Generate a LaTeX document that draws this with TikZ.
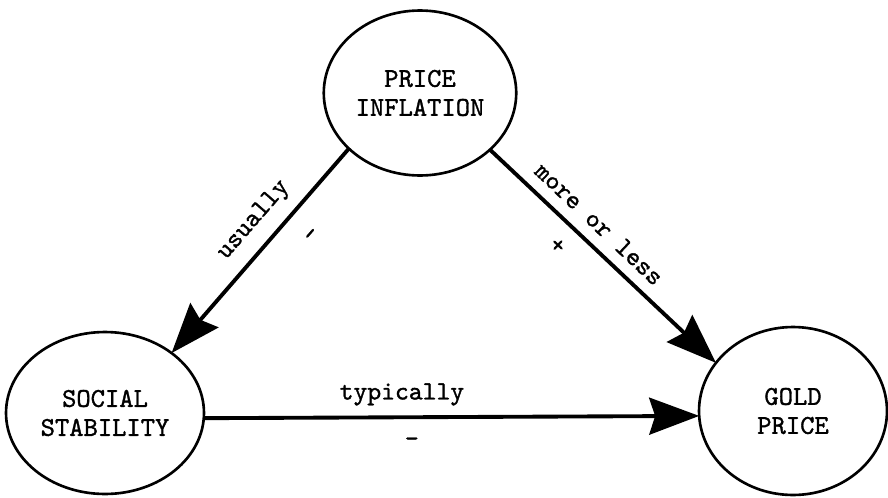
\documentclass[tikz,border=0pt]{standalone}
\usepackage{fontspec}
\newfontfamily\typew{lmmono10-regular.otf}[FakeBold=1.2]
\usetikzlibrary{positioning, arrows.meta, shapes.geometric}

\tikzset{
  blob/.style={draw, ellipse, line width=1.5pt, minimum width=3.85cm, minimum height=3.3cm,
    inner sep=0pt, outer sep=0pt, align=center, font=\typew\fontsize{15.5}{16.5}\selectfont},
  link/.style={-{Stealth[length=1cm,width=0.74cm,inset=0.12cm]}, line width=2.2pt},
  lbl/.style={font=\typew\fontsize{15}{16.5}\selectfont}
}

\begin{document}
\begin{tikzpicture}[x=0.02cm, y=-0.02cm]
    \useasboundingbox (0,0) rectangle (888,497);
    \node[blob] (I) at (420,93) {PRICE\\INFLATION};
    \node[blob, minimum width=3.96cm, minimum height=3.24cm] (S) at (105,413) {SOCIAL\\STABILITY};
    \node[blob, minimum width=3.76cm, minimum height=3.36cm] (G) at (793,411) {GOLD\\PRICE};
    % arrows between the three
    \draw[link] (I.218) -- (S.42)
        node[pos=0.43, sloped, above=0.12cm, lbl] {usually}
        node[pos=0.33, sloped, below=0.35cm, lbl] {-};
    \draw[link] (I.321) -- (G.148)
        node[pos=0.42, sloped, above=0.1cm, lbl] {more or less}
        node[pos=0.37, sloped, below=0.18cm, lbl] {+};
    \draw[link] (S.-3) -- (G.183)
        node[pos=0.4, above=0.08cm, lbl] {typically}
        node[pos=0.42, below=0.25cm, lbl] {-};
\end{tikzpicture}
\end{document}
